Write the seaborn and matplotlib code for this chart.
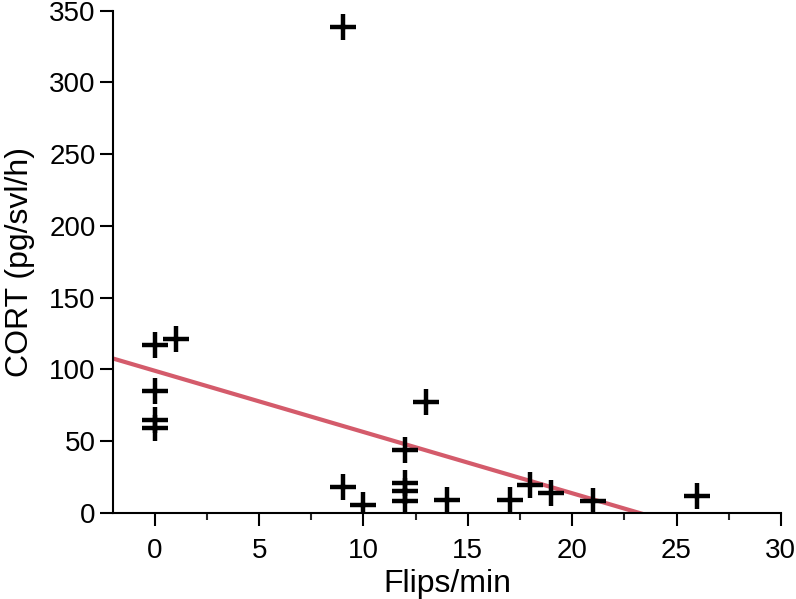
import matplotlib
matplotlib.use("Agg")
import matplotlib.pyplot as plt
import seaborn as sns
import numpy as np
import pandas as pd
from matplotlib.ticker import MultipleLocator

# values
flips = [0, 0, 0, 0, 1, 9, 9, 10, 12, 12, 12, 12, 13, 14, 17, 18, 19, 21, 26]
cort = [117, 85, 65, 59, 121, 339, 18, 5.5, 44, 21, 15, 8, 77, 9, 9, 19.5, 14, 8.5, 12]
x_ticks = [0, 5, 10, 15, 20, 25, 30]
y_ticks = [0, 50, 100, 150, 200, 250, 300, 350]
# regression line as drawn in the reference
fit_intercept = 99.0
fit_slope = -4.27

df = pd.DataFrame({"flips": flips, "cort": cort})

sns.set_style("ticks")
plt.rcParams["font.family"] = ["Liberation Sans", "DejaVu Sans"]
plt.rcParams["text.color"] = "black"
plt.rcParams["axes.labelcolor"] = "black"

fig = plt.figure(figsize=(7.96, 5.99), dpi=100)
ax = fig.add_axes([0.142, 0.144, 0.839, 0.838])
ax.set_xlim(-2, 30)
ax.set_ylim(0, 350)

line_x = np.array(ax.get_xlim())
line_df = pd.DataFrame({"flips": line_x, "cort": fit_intercept + fit_slope * line_x})
sns.lineplot(data=line_df, x="flips", y="cort", ax=ax, color="#d45b6b", lw=3, zorder=2)

sns.scatterplot(data=df, x="flips", y="cort", ax=ax, marker="+", s=330,
                color="black", linewidth=3.2, alpha=1, zorder=3)

ax.set_xlim(-2, 30)
ax.set_ylim(0, 350)
ax.set_xticks(x_ticks)
ax.set_yticks(y_ticks)
ax.xaxis.set_minor_locator(MultipleLocator(2.5))
ax.tick_params(axis="both", which="major", direction="out", length=9.5, width=1.5,
               labelsize=20, color="black", labelcolor="black")
ax.tick_params(axis="x", which="major", pad=9)
ax.tick_params(axis="y", which="major", pad=3)
ax.tick_params(axis="x", which="minor", direction="out", length=5, width=1.5)
for side in ["left", "bottom"]:
    ax.spines[side].set_linewidth(1.5)
    ax.spines[side].set_color("black")
sns.despine(ax=ax)

ax.set_xlabel("Flips/min", fontsize=23, labelpad=3)
ax.set_ylabel("CORT (pg/svl/h)", fontsize=23, labelpad=10)

fig.savefig("out.png", dpi=100)
